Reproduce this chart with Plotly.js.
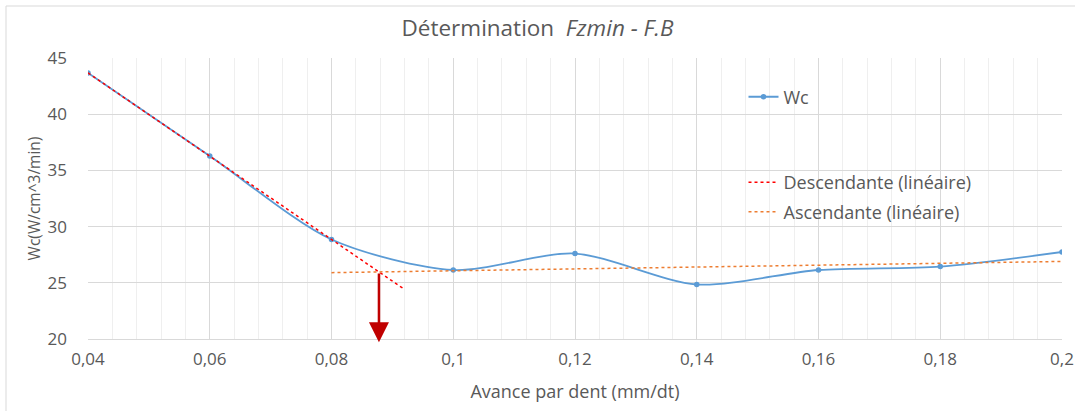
<!DOCTYPE html>
<html>
<head>
<meta charset="utf-8">
<script src="https://cdn.plot.ly/plotly-3.0.1.min.js"></script>
<style>
  html, body { margin: 0; padding: 0; background: #fff; }
  #chart { width: 1075px; height: 411px; }
</style>
</head>
<body>
<div id="chart"></div>
<script>
// ---- Data ----
const avance = [0.04, 0.06, 0.08, 0.10, 0.12, 0.14, 0.16, 0.18, 0.20];
const wc     = [43.67, 36.28, 28.85, 26.14, 27.60, 24.85, 26.14, 26.44, 27.74];

// points used by each Excel linear trendline and their forecast ranges
const descIdx = [0, 1, 2];            // Descendante: 0.04 .. 0.08
const descRange = [0.04, 0.092];      // forward forecast ~0.012
const ascIdx = [3, 4, 5, 6, 7, 8];    // Ascendante: 0.10 .. 0.20
const ascRange = [0.08, 0.20];        // backward forecast 0.02

const xTickVals = [0.04, 0.06, 0.08, 0.10, 0.12, 0.14, 0.16, 0.18, 0.20];
const xTickText = ['0,04', '0,06', '0,08', '0,1', '0,12', '0,14', '0,16', '0,18', '0,2'];
const yRange = [20, 45];

// ---- Linear regression (as Excel's trendline) ----
function linfit(idx) {
  const xs = idx.map(i => avance[i]), ys = idx.map(i => wc[i]);
  const n = xs.length;
  const mx = xs.reduce((a, b) => a + b, 0) / n;
  const my = ys.reduce((a, b) => a + b, 0) / n;
  let sxy = 0, sxx = 0;
  for (let i = 0; i < n; i++) { sxy += (xs[i] - mx) * (ys[i] - my); sxx += (xs[i] - mx) ** 2; }
  const m = sxy / sxx;
  return { m: m, b: my - m * mx };
}
const dFit = linfit(descIdx);
const aFit = linfit(ascIdx);
const xInt = (aFit.b - dFit.b) / (dFit.m - aFit.m);
const yInt = dFit.m * xInt + dFit.b;

const txt = '#595959';
const font = 'Open Sans, Noto Sans, sans-serif';

const traces = [
  {
    x: avance, y: wc, name: 'Wc', type: 'scatter', mode: 'lines+markers',
    line: { color: '#5B9BD5', width: 1.8, shape: 'spline', smoothing: 0.8 },
    marker: { color: '#5B9BD5', size: 5.5 },
    legend: 'legend'
  },
  {
    x: descRange, y: descRange.map(x => dFit.m * x + dFit.b),
    name: 'Descendante (linéaire)', type: 'scatter', mode: 'lines',
    line: { color: '#FF0000', width: 1.5, dash: 'dot' },
    legend: 'legend2', legendgroup: 'd'
  },
  {
    x: ascRange, y: ascRange.map(x => aFit.m * x + aFit.b),
    name: 'Ascendante (linéaire)', type: 'scatter', mode: 'lines',
    line: { color: '#ED7D31', width: 1.5, dash: 'dot' },
    legend: 'legend2', legendgroup: 'a'
  }
];

const layout = {
  width: 1075, height: 411,
  margin: { l: 88, r: 13, t: 58, b: 72 },
  paper_bgcolor: '#fff', plot_bgcolor: '#fff',
  font: { family: font, color: txt, size: 17 },
  title: {
    text: 'Détermination  <i>Fzmin - F.B</i>',
    font: { family: font, size: 22.5, color: txt },
    x: 0.5, xanchor: 'center', y: 0.932, yanchor: 'middle'
  },
  xaxis: {
    range: [0.04, 0.2], tickvals: xTickVals, ticktext: xTickText,
    showgrid: true, gridcolor: '#D9D9D9', gridwidth: 1,
    minor: { dtick: 0.004, showgrid: true, gridcolor: '#EFEFEF', gridwidth: 1 },
    zeroline: false, showline: true, linecolor: '#D9D9D9', linewidth: 1,
    ticks: '', ticklabelstandoff: 5,
    tickfont: { size: 17, color: txt },
    title: { text: 'Avance par dent (mm/dt)', font: { size: 18, color: txt }, standoff: 15 }
  },
  yaxis: {
    range: yRange, dtick: 5,
    showgrid: true, gridcolor: '#D9D9D9', gridwidth: 1,
    zeroline: false, showline: false, ticks: '', ticklabelstandoff: 20,
    tickfont: { size: 17, color: txt },
    title: { text: 'Wc(W/cm^3/min)', font: { size: 15.5, color: txt }, standoff: 3 }
  },
  legend: {
    x: 0.673, y: 0.861, xanchor: 'left', yanchor: 'middle',
    bgcolor: 'rgba(0,0,0,0)', font: { size: 18, color: txt },
    itemwidth: 30
  },
  legend2: {
    x: 0.673, y: 0.505, xanchor: 'left', yanchor: 'middle',
    bgcolor: 'rgba(0,0,0,0)', font: { size: 18, color: txt },
    itemwidth: 30, tracegroupgap: 3
  },
  showlegend: true,
  annotations: [{
    x: xInt, y: yRange[0] - 0.3, ax: xInt, ay: yInt, xref: 'x', yref: 'y', axref: 'x', ayref: 'y',
    text: '', showarrow: true, arrowhead: 2, arrowsize: 1.6, arrowwidth: 2.5,
    arrowcolor: '#C00000'
  }],
  shapes: [
    { type: 'line', xref: 'paper', yref: 'paper', x0: -82/974, x1: 1.2, y0: 1 + 52/281, y1: 1 + 52/281,
      line: { color: '#D9D9D9', width: 1 } },
    { type: 'line', xref: 'paper', yref: 'paper', x0: -82/974, x1: -82/974, y0: -0.3, y1: 1 + 52/281,
      line: { color: '#D9D9D9', width: 1 } }
  ]
};

Plotly.newPlot('chart', traces, layout, { displayModeBar: false, staticPlot: true });
</script>
</body>
</html>
